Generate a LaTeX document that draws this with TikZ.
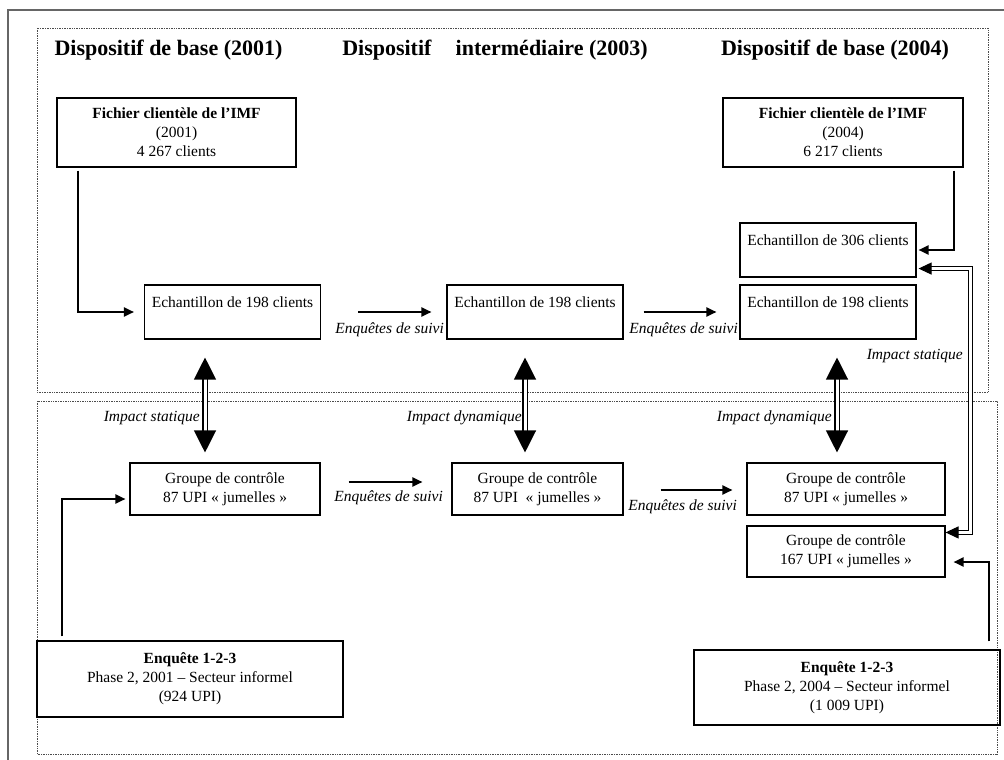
\documentclass[tikz,border=0pt]{standalone}
\usepackage{fontspec}
\setmainfont{Liberation Serif}
\usetikzlibrary{arrows.meta}

\begin{document}
\begin{tikzpicture}[x=1pt, y=-1pt,
    every node/.style={font=\fontsize{15.5}{19}\selectfont},
    boite/.style={draw, line width=1.1pt, align=center, inner sep=0pt},
    echant/.style={boite, minimum width=176pt, text height=22pt, text depth=32pt},
    groupe/.style={boite, minimum height=52pt},
    titre/.style={font=\fontsize{22}{26}\selectfont\bfseries},
    etiq/.style={font=\fontsize{15.5}{19}\selectfont\itshape, inner sep=0pt},
    fleche/.style={line width=2pt, -{Triangle[length=10pt,width=9pt]}},
    impact/.style={double, double distance=3pt, line width=1.2pt,
        {Triangle[length=22pt,width=22pt]}-{Triangle[length=22pt,width=22pt]}},
    impactb/.style={double, double distance=2.5pt, line width=1.1pt,
        {Triangle[length=13pt,width=12pt]}-{Triangle[length=13pt,width=12pt]}},
    cadre/.style={densely dotted, line width=0.7pt, black!70}]

    % Cadre et zones
    \useasboundingbox (0,0) rectangle (1004,760);
    \draw[gray!80!black, line width=1.2pt] (1004,10) -- (8,10) -- (8,760);
    \draw[cadre] (37,28) rectangle (988,392);
    \draw[cadre] (37,401) rectangle (997,754);

    % Titres
    \node[titre] (tA) at (168.5,50) {Dispositif de base (2001)};
    \node[titre] (tB) at (495,50) {Dispositif\hspace{1.1em}intermédiaire (2003)};
    \node[titre] (tC) at (835,50) {Dispositif de base (2004)};

    % Fichiers clientèle
    \node[boite, minimum width=239pt, minimum height=69pt] (fichA) at (176.5,132.5) {\textbf{Fichier clientèle de l’IMF}\\(2001)\\4 267 clients};
    \node[boite, minimum width=240pt, minimum height=69pt] (fichB) at (843,132.5) {\textbf{Fichier clientèle de l’IMF}\\(2004)\\6 217 clients};

    % Echantillons
    \node[echant] (echA) at (232.5,312) {Echantillon de 198 clients};
    \node[echant] (echB) at (535,312) {Echantillon de 198 clients};
    \node[echant] (echC) at (828,312) {Echantillon de 198 clients};
    \node[echant] (echD) at (828,250) {Echantillon de 306 clients};

    % Groupes de contrôle
    \node[groupe, minimum width=190pt] (grpA) at (225,489) {Groupe de contrôle\\87 UPI « jumelles »};
    \node[groupe, minimum width=171pt] (grpB) at (537.5,489) {Groupe de contrôle\\87 UPI \ « jumelles »};
    \node[groupe, minimum width=198pt] (grpC) at (846,489) {Groupe de contrôle\\87 UPI « jumelles »};
    \node[groupe, minimum width=198pt, minimum height=51pt] (grpD) at (846,551.5) {Groupe de contrôle\\167 UPI « jumelles »};

    % Enquêtes 1-2-3
    \node[boite, minimum width=306pt, minimum height=76pt] (enqA) at (190,679) {\textbf{Enquête 1-2-3}\\Phase 2, 2001 – Secteur informel\\(924 UPI)};
    \node[boite, minimum width=306pt, minimum height=75pt] (enqB) at (847,687.5) {\textbf{Enquête 1-2-3}\\Phase 2, 2004 – Secteur informel\\(1 009 UPI)};

    % Etiquettes
    \node[etiq, anchor=east] (sA) at (444,330) {Enquêtes de suivi};
    \node[etiq, anchor=east] (sB) at (738,330) {Enquêtes de suivi};
    \node[etiq, anchor=east] (sC) at (443,498) {Enquêtes de suivi};
    \node[etiq, anchor=east] (sD) at (737,507) {Enquêtes de suivi};
    \node[etiq, anchor=east] (iA) at (200,418) {Impact statique};
    \node[etiq, anchor=east] (iB) at (522,418) {Impact dynamique};
    \node[etiq, anchor=east] (iC) at (832,418) {Impact dynamique};
    \node[etiq, anchor=east] (iD) at (963,356) {Impact statique};

    % Flèches simples
    \draw[fleche] ([xshift=22pt,yshift=-3pt]fichA.south west) |- ([xshift=-10pt]echA.west);
    \draw[fleche] ([xshift=37pt]echA.east) -- ([xshift=-15pt]echB.west);
    \draw[fleche] ([xshift=20pt]echB.east) -- ([xshift=-23pt]echC.west);
    \draw[fleche] ([xshift=-10pt,yshift=-3pt]fichB.south east) |- ([xshift=2pt]echD.east);
    \draw[fleche] ([xshift=26pt,yshift=4pt]enqA.north west) |- ([xshift=-4pt,yshift=-10pt]grpA.west);
    \draw[fleche] ([xshift=28pt,yshift=7pt]grpA.east) -- ([xshift=-29pt,yshift=7pt]grpB.west);
    \draw[fleche] ([xshift=37pt,yshift=-1pt]grpB.east) -- ([xshift=-14pt,yshift=-1pt]grpC.west);
    \draw[fleche] ([xshift=-12pt,yshift=8pt]enqB.north east) |- ([xshift=8pt,yshift=-10.5pt]grpD.east);

    % Flèches d'impact
    \draw[impact] ([xshift=-27.5pt,yshift=-18pt]echA.south) -- ([xshift=-20pt,yshift=10pt]grpA.north);
    \draw[impact] ([xshift=-10pt,yshift=-18pt]echB.south) -- ([xshift=-12.5pt,yshift=10pt]grpB.north);
    \draw[impact] ([xshift=9pt,yshift=-18pt]echC.south) -- ([xshift=-9pt,yshift=10pt]grpC.north);
    \draw[impactb] ([yshift=-7pt]grpD.north east) -- ++(25,0) |- ([xshift=2pt,yshift=9pt]echD.south east);
\end{tikzpicture}
\end{document}
